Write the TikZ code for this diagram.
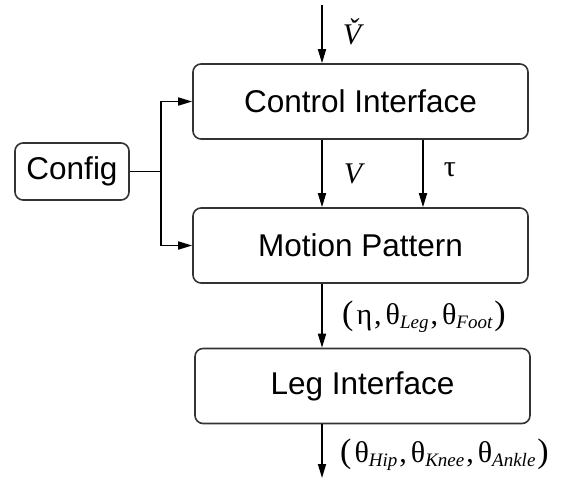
\documentclass[tikz,border=0pt]{standalone}
\usepackage{fontspec}
\setmainfont{Liberation Serif}
\newfontfamily\boxfont{Liberation Sans}
\usetikzlibrary{arrows.meta}

% lowered italic index and tall brackets for the joint tuples
\newcommand{\jsub}[1]{\raisebox{-4pt}{\fontsize{19}{20}\selectfont\itshape #1}}
\newcommand{\lpar}{{\fontsize{34}{34}\selectfont(}\kern3pt}
\newcommand{\rpar}{\kern2pt{\fontsize{34}{34}\selectfont)}}
\newcommand{\tsep}{\kern2pt,\kern4pt}

\tikzset{
  block/.style={draw=black!80, line width=1.6pt, rounded corners=8pt,
    minimum width=335pt, minimum height=75pt, inner sep=0pt,
    font=\boxfont\fontsize{31.5}{36}\selectfont},
  flow/.style={line width=1.6pt, -{Triangle[length=14pt,width=8pt]}},
  lbl/.style={inner sep=0pt, font=\fontsize{30}{34}\selectfont}
}

\begin{document}
\begin{tikzpicture}[x=1pt,y=1pt,yscale=-1]
    \useasboundingbox (0,0) rectangle (561,483);

    % Blocks
    \node[block] (ctrl) at (360.5,101.5) {Control Interface};
    \node[block] (motion) at (360.5,245.5) {Motion Pattern};
    \node[block] (leg) at (362.5,386) {Leg Interface};
    \node[block, minimum width=114pt, minimum height=57pt] (config) at (72,171.5) {Config};

    % Arrow columns
    \coordinate (vin) at (322,5);
    \coordinate (tau) at (423,5);
    \coordinate (out) at (322,478);

    % Signals
    \draw[flow] (vin) -- (vin |- ctrl.north);
    \draw[flow] (ctrl.south -| vin) -- (motion.north -| vin);
    \draw[flow] (ctrl.south -| tau) -- (motion.north -| tau);
    \draw[flow] (motion.south -| vin) -- (leg.north -| vin);
    \draw[flow] (leg.south -| out) -- (out);

    % Configuration
    \draw[flow] (config.east) -- ++(31,0) |- (ctrl.west);
    \draw[flow] (config.east) -- ++(31,0) |- (motion.west);

    % Labels
    \node[lbl] (vcheck) at (352,32) {\itshape\v{V}};
    \node[lbl] (vlbl) at (353,174) {\itshape V};
    \node[lbl] (taulbl) at (450,170) {τ};
    \node[lbl, anchor=west] (eta) at (342,317)
      {\lpar η\tsep θ\jsub{Leg}\tsep θ\jsub{Foot}\rpar};
    \node[lbl, anchor=west] (theta) at (340,455)
      {\lpar θ\jsub{Hip}\tsep θ\jsub{Knee}\tsep θ\jsub{Ankle}\rpar};

\end{tikzpicture}
\end{document}
